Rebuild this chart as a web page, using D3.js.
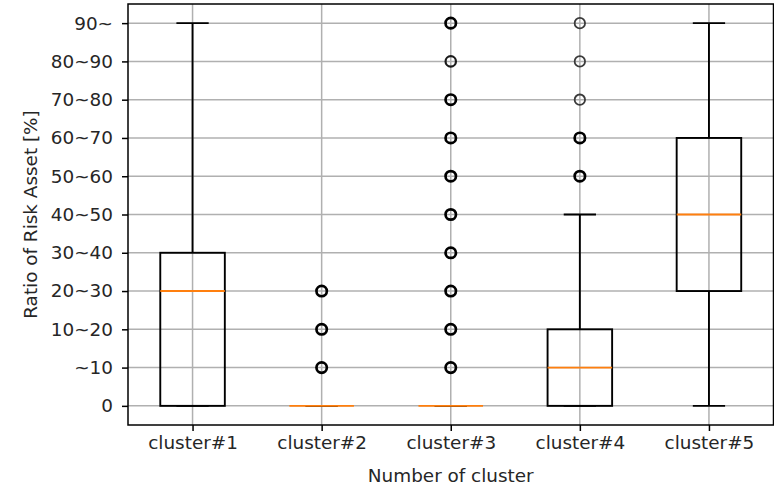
<!DOCTYPE html>
<html>
<head>
<meta charset="utf-8">
<script src="https://cdn.jsdelivr.net/npm/d3@7"></script>
<style>
  body { margin: 0; background: #fff; }
  svg text { font-family: "DejaVu Sans", sans-serif; fill: #262626; }
</style>
</head>
<body>
<svg id="chart"></svg>
<script>
// data (values are index of the y tick label)
const categories = ["cluster#1", "cluster#2", "cluster#3", "cluster#4", "cluster#5"];
const yLabels = ["0", "~10", "10~20", "20~30", "30~40", "40~50", "50~60", "60~70", "70~80", "80~90", "90~"];
const whiskerLow = [0, 0, 0, 0, 0];
const q1 = [0, 0, 0, 0, 3];
const median = [3, 0, 0, 1, 5];
const q3 = [4, 0, 0, 2, 7];
const whiskerHigh = [10, 0, 0, 5, 10];
const fliers = [[], [1, 2, 3], [1, 2, 3, 4, 5, 6, 7, 8, 9, 10], [6, 7, 8, 9, 10], []];
// rough number of overlapping points at each flier (darker = more)
const flierCounts = [[], [6, 6, 6], [6, 6, 6, 6, 6, 6, 6, 6, 2, 3], [5, 4, 1, 1, 1], []];

const width = 774;
const height = 487;
const margin = { left: 128, top: 4, right: 0.5, bottom: 62 };
const fontSize = 18.4;

let svg = d3.select("#chart").attr("width", width).attr("height", height);

let scX = d3.scaleLinear()
    .domain([0.5, categories.length + 0.5])
    .range([margin.left, width - margin.right]);
let scY = d3.scaleLinear()
    .domain([-0.5, yLabels.length - 0.5])
    .range([height - margin.bottom, margin.top]);

// grid
let grid = svg.append("g");
grid.selectAll(".gy")
    .data(yLabels)
    .enter()
    .append("line")
    .attr("x1", scX.range()[0]).attr("x2", scX.range()[1])
    .attr("y1", (d, i) => scY(i)).attr("y2", (d, i) => scY(i))
    .attr("stroke", "#b0b0b0").attr("stroke-width", 1.5);
grid.selectAll(".gx")
    .data(categories)
    .enter()
    .append("line")
    .attr("x1", (d, i) => scX(i + 1)).attr("x2", (d, i) => scX(i + 1))
    .attr("y1", scY.range()[0]).attr("y2", scY.range()[1])
    .attr("stroke", "#b0b0b0").attr("stroke-width", 1.5);

// axes
let axisX = d3.axisBottom(scX)
    .tickValues(d3.range(1, categories.length + 1))
    .tickFormat(d => categories[d - 1])
    .tickSize(6).tickPadding(5).tickSizeOuter(0);
let axisY = d3.axisLeft(scY)
    .tickValues(d3.range(yLabels.length))
    .tickFormat(d => yLabels[d])
    .tickSize(6).tickPadding(9).tickSizeOuter(0);

let gx = svg.append("g")
    .attr("transform", `translate(0, ${height - margin.bottom})`)
    .call(axisX);
let gy = svg.append("g")
    .attr("transform", `translate(${margin.left}, 0)`)
    .call(axisY);
[gx, gy].forEach(g => {
    g.select(".domain").remove();
    g.selectAll(".tick line").attr("stroke", "#000").attr("stroke-width", 1.5);
    g.selectAll(".tick text").style("font-size", fontSize + "px").attr("fill", "#262626");
});

// boxes
let boxW = scX(1.25) - scX(1);
let capW = scX(1.125) - scX(1);
let strokeOf = n => n > 2 ? "#000" : (n == 2 ? "#1a1a1a" : "#3a3a3a");
let widthOf = n => n > 2 ? 2.7 : (n == 2 ? 2.2 : 1.8);
let marks = svg.append("g");
categories.forEach((c, i) => {
    let cx = scX(i + 1);
    let g = marks.append("g");
    g.append("line")
        .attr("x1", cx).attr("x2", cx)
        .attr("y1", scY(whiskerLow[i])).attr("y2", scY(q1[i]))
        .attr("stroke", "#000").attr("stroke-width", 1.9);
    g.append("line")
        .attr("x1", cx).attr("x2", cx)
        .attr("y1", scY(q3[i])).attr("y2", scY(whiskerHigh[i]))
        .attr("stroke", "#000").attr("stroke-width", 1.9);
    [whiskerLow[i], whiskerHigh[i]].forEach(v => {
        g.append("line")
            .attr("x1", cx - capW).attr("x2", cx + capW)
            .attr("y1", scY(v)).attr("y2", scY(v))
            .attr("stroke", "#000").attr("stroke-width", 1.9);
    });
    g.append("rect")
        .attr("x", cx - boxW)
        .attr("y", scY(q3[i]))
        .attr("width", boxW * 2)
        .attr("height", scY(q1[i]) - scY(q3[i]))
        .attr("fill", "none")
        .attr("stroke", "#000").attr("stroke-width", 1.9);
    g.append("line")
        .attr("x1", cx - boxW).attr("x2", cx + boxW)
        .attr("y1", scY(median[i])).attr("y2", scY(median[i]))
        .attr("stroke", "#ff7f0e").attr("stroke-width", 1.9);

    let pts = fliers[i].map((v, j) => ({ v: v, n: flierCounts[i][j] }));
    g.selectAll("circle")
        .data(pts)
        .enter()
        .append("circle")
        .attr("cx", cx)
        .attr("cy", d => scY(d.v))
        .attr("r", 5.2)
        .attr("fill", "none")
        .attr("stroke", d => strokeOf(d.n))
        .attr("stroke-width", d => widthOf(d.n));
});

// frame
svg.append("rect")
    .attr("x", scX.range()[0]).attr("y", scY.range()[1])
    .attr("width", scX.range()[1] - scX.range()[0])
    .attr("height", scY.range()[0] - scY.range()[1])
    .attr("fill", "none").attr("stroke", "#000").attr("stroke-width", 1.5);

// axis titles
svg.append("text")
    .attr("x", (scX.range()[0] + scX.range()[1]) / 2)
    .attr("y", 482)
    .attr("text-anchor", "middle")
    .style("font-size", fontSize + "px")
    .text("Number of cluster");
svg.append("text")
    .attr("transform", `translate(37, ${(scY.range()[0] + scY.range()[1]) / 2}) rotate(-90)`)
    .attr("text-anchor", "middle")
    .style("font-size", fontSize + "px")
    .text("Ratio of Risk Asset [%]");
</script>
</body>
</html>
